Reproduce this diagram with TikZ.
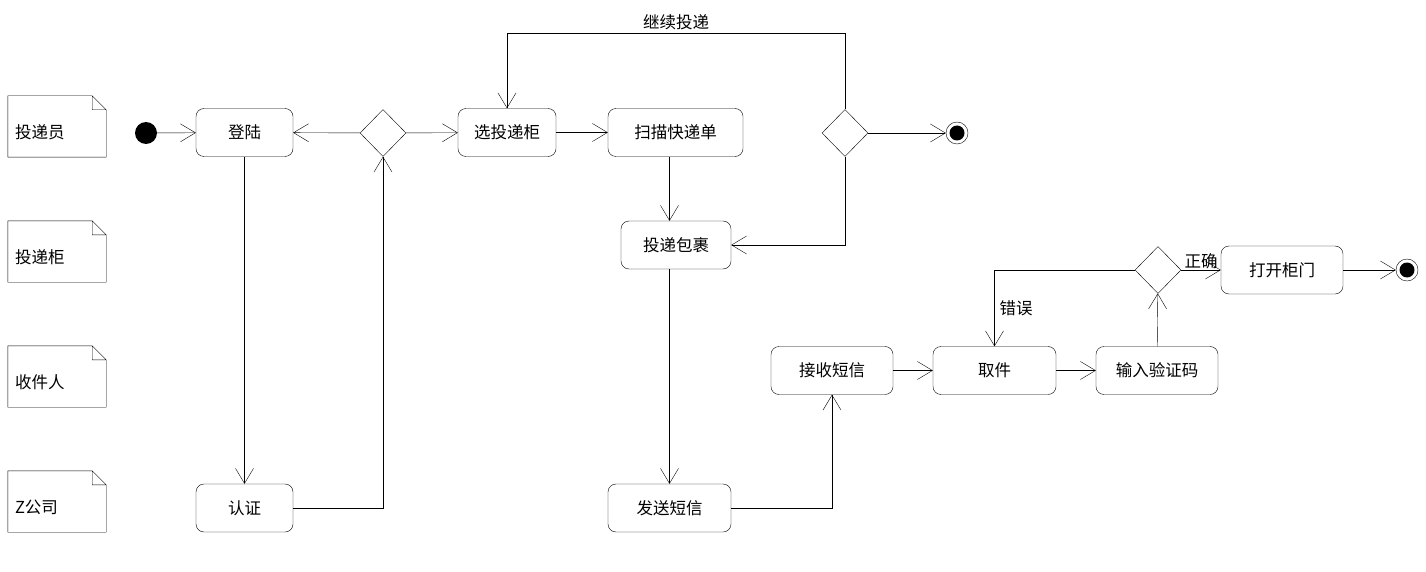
\documentclass[tikz,border=0pt]{standalone}
\usepackage{fontspec}
\setmainfont{Noto Sans CJK SC}
\usetikzlibrary{
  arrows.meta,
  shapes.geometric, % Shape "diamond"
  positioning,
}
\def\myfold{14pt}
\tikzset{
  font=\fontsize{16.5}{19}\selectfont,
  line width=1pt,
  >={Straight Barb[length=15pt,width=18pt]},
  my action/.style={
    draw,
    rectangle,
    rounded corners=8pt,
    minimum height=48pt,
    inner sep=0pt
  },
  my decision/.style={
    draw,
    diamond,
    minimum width=46pt,
    minimum height=47pt,
    inner sep=0pt
  },
  my start/.style={
    circle,
    fill=black,
    minimum size=22pt,
    inner sep=0pt
  },
  my end/.style={
    circle,
    draw,
    minimum size=22pt,
    inner sep=0pt,
    path picture={\fill (path picture bounding box.center) circle (7.5pt);}
  },
  my note/.style={
    text width=84pt,
    inner xsep=7pt,
    inner ysep=0pt,
    minimum height=61pt,
    text height=24pt,
    text depth=0pt,
    align=left
  }
}

\begin{document}
\begin{tikzpicture}[x=1pt,y=-1pt]
\useasboundingbox (0,0) rectangle (1426,572);
% roles
\node[my note] (r1) at (57,126.5) {投递员};
\node[my note] (r2) at (57,251.5) {投递柜};
\node[my note] (r3) at (57,376.5) {收件人};
\node[my note] (r4) at (57,501.5) {Z公司};
\foreach \r in {r1,r2,r3,r4}
  \draw (\r.north west) -- ([xshift=-\myfold]\r.north east)
        -- ([yshift=-\myfold]\r.north east) -- (\r.south east)
        -- (\r.south west) -- cycle
        ([xshift=-\myfold]\r.north east) |- ([yshift=-\myfold]\r.north east);
% activities
\node[my start]                      (s0)    at (146,133)     {};
\node[my action,minimum width=97pt]  (login) at (244.5,132.5) {登陆};
\node[my decision]                   (d1)    at (383,133)     {};
\node[my action,minimum width=98pt]  (pick)  at (507,132.5)   {选投递柜};
\node[my action,minimum width=135pt] (scan)  at (675.5,132.5) {扫描快递单};
\node[my decision]                   (d2)    at (845,133)     {};
\node[my end]                        (e1)    at (957,133)     {};
\node[my action,minimum width=110pt] (put)   at (676,245)     {投递包裹};
\node[my action,minimum width=97pt]  (auth)  at (244.5,508)   {认证};
\node[my action,minimum width=123pt] (sms)   at (669.5,508)   {发送短信};
\node[my action,minimum width=122pt] (recv)  at (832,370.5)   {接收短信};
\node[my action,minimum width=123pt] (take)  at (994.5,370.5) {取件};
\node[my action,minimum width=122pt] (code)  at (1157,370.5)  {输入验证码};
\node[my decision]                   (d3)    at (1158,270)    {};
\node[my action,minimum width=122pt] (open)  at (1282,270)    {打开柜门};
\node[my end]                        (e2)    at (1407,270)    {};
% flows
\path[->] (s0)    edge (login)
          (d1)    edge (login)
                  edge (pick)
          (login) edge (auth)
          (pick)  edge (scan)
          (d2)    edge (e1)
          (recv)  edge (take)
          (take)  edge (code)
          (code)  edge (d3)
          (d3)    edge node[above,inner sep=1pt] {正确} (open)
          (open)  edge (e2);
\draw[->] (auth) -| (d1);
\draw[->] (d2) |- (put);
\draw[->] (d2.north) -- (d2.north |- 0,33) -| node[pos=0.25,above,inner sep=3pt] {继续投递} (pick.north);
\draw[->] (scan.south -| sms.north) -- (put.north -| sms.north);
\draw[->] (put.south -| sms.north) -- (sms);
\draw[->] (sms) -| (recv);
\draw[->] (d3) -| node[pos=0.75,right,inner sep=5pt] {错误} (take);
\end{tikzpicture}
\end{document}
